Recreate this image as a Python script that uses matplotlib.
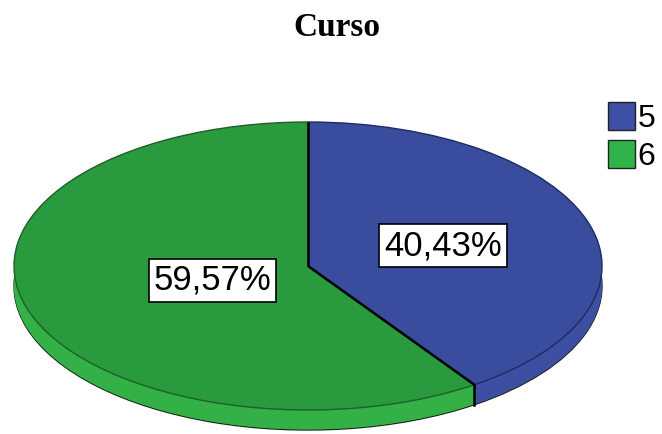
import matplotlib
matplotlib.use('Agg')
import matplotlib.pyplot as plt
import matplotlib.patches as mpatches
import numpy as np

# data
categories = ['5', '6']
percents = [40.43, 59.57]
title = 'Curso'

# colours
top_colors = ['#394c9d', '#2a9a3e']
side_colors = ['#3c4fa2', '#33b046']
edge_colors = ['#1f2b62', '#1f5f2a']
legend_colors = ['#3d50a6', '#30b348']

W, H = 662, 434
fig = plt.figure(figsize=(W / 100, H / 100), dpi=100)

# pie ellipse box in pixels: top face x 14..602, y 122..410, depth 20 px
px_left, px_right, px_top, px_face_bottom, depth_px = 14, 602, 122, 410, 20
ry_px = (px_face_bottom - px_top) / 2
d = depth_px / ry_px
ax = fig.add_axes([px_left / W, (H - (px_face_bottom + depth_px)) / H,
                   (px_right - px_left) / W, (px_face_bottom + depth_px - px_top) / H])

# side (depth) made of stacked layers
n_layers = 40
offsets = np.linspace(d, 0, n_layers, endpoint=False)
for i, off in enumerate(offsets):
    if i == 0:
        wp = dict(linewidth=1.0, edgecolor='#1a2a1a')
    else:
        wp = dict(linewidth=0)
    ax.pie(percents, colors=side_colors, startangle=90, counterclock=False,
           center=(0, -off), radius=1, wedgeprops=wp)

# top face
wedges, _ = ax.pie(percents, colors=top_colors, startangle=90, counterclock=False,
                   center=(0, 0), radius=1, wedgeprops=dict(linewidth=1.0))
for w, ec in zip(wedges, edge_colors):
    w.set_edgecolor(ec)

# slice boundaries
cum = np.concatenate([[0], np.cumsum(percents) / np.sum(percents)])
bounds = np.deg2rad(90 - 360 * cum[:-1])
for th in bounds:
    ax.plot([0, np.cos(th)], [0, np.sin(th)], color='black', lw=1.8, solid_capstyle='butt')
    if np.sin(th) < 0:
        ax.plot([np.cos(th)] * 2, [np.sin(th), np.sin(th) - d], color='black', lw=1.8)

# percentage labels
label_r = [0.48, 0.34]
mids = np.deg2rad(90 - 360 * (cum[:-1] + cum[1:]) / 2)
for p, th, r in zip(percents, mids, label_r):
    txt = f'{p:.2f}%'.replace('.', ',')
    ax.text(r * np.cos(th), r * np.sin(th), txt, ha='center', va='center',
            fontsize=25, family='Liberation Sans', color='black',
            bbox=dict(boxstyle='square,pad=0.14', facecolor='white',
                      edgecolor='black', linewidth=1.2))

ax.set_xlim(-1, 1)
ax.set_ylim(-1 - d, 1)
ax.set_aspect('auto')
ax.axis('off')

# legend
handles = [mpatches.Patch(facecolor=c, edgecolor='#222222', linewidth=1.0) for c in legend_colors]
fig.legend(handles, categories, loc='upper left', bbox_to_anchor=(608 / W, 1 - 102 / H),
           frameon=False, prop={'family': 'Liberation Sans', 'size': 23},
           handlelength=0.85, handleheight=0.95, handletextpad=0.08, labelspacing=0.2,
           borderpad=0, borderaxespad=0)

fig.text(337 / W, 1 - 28 / H, title, ha='center', va='center', fontsize=24,
         fontweight='bold', family='Liberation Serif')

fig.savefig('out.png', dpi=100, facecolor='white')
